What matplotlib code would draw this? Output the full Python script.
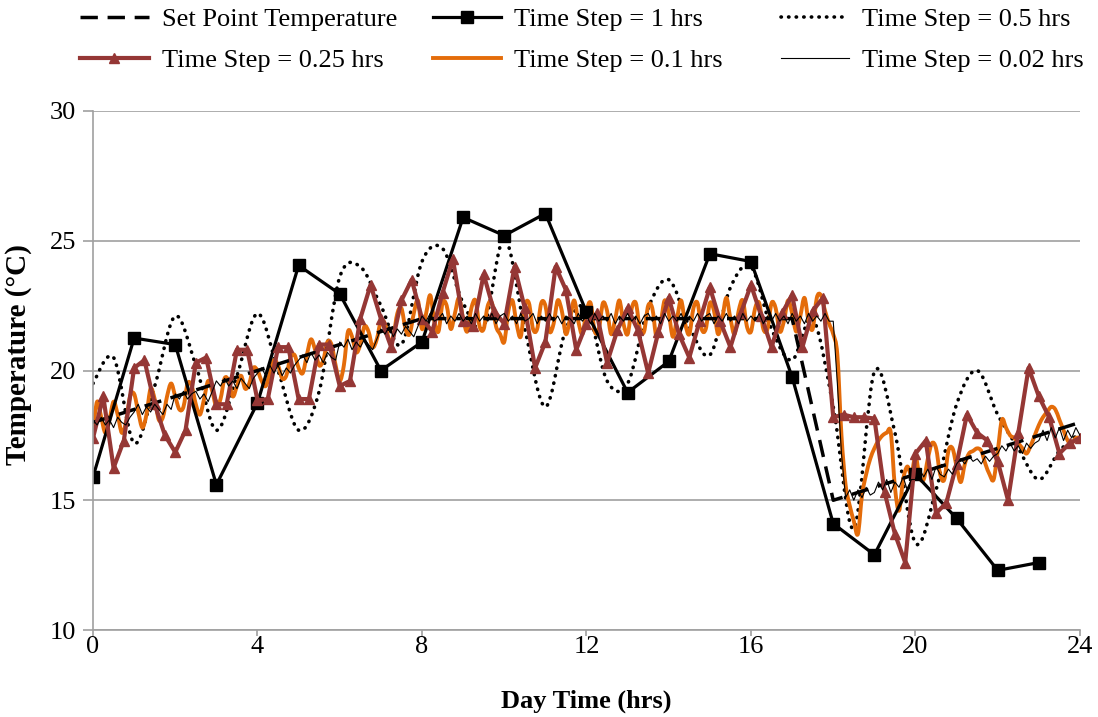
import matplotlib.pyplot as plt
from matplotlib.lines import Line2D
from matplotlib.path import Path
from matplotlib.patches import PathPatch
import numpy as np

plt.rcParams['font.family'] = ['Liberation Serif', 'DejaVu Serif']

# set point, one value per hour
sp_hours = list(range(25))
set_point = [18.0, 18.5, 19.0, 19.5, 20.0, 20.5, 21.0, 21.5, 22.0, 22.0,
             22.0, 22.0, 22.0, 22.0, 22.0, 22.0, 22.0, 22.0, 15.0, 15.5,
             16.0, 16.5, 17.0, 17.5, 18.0]

# time step = 1 hrs
t_1 = list(range(24))
temp_1 = [15.9, 21.25, 21.0, 15.6, 18.75, 24.05, 22.95, 20.0, 21.1, 25.9,
          25.2, 26.05, 22.25, 19.15, 20.35, 24.5, 24.2, 19.75, 14.1, 12.9,
          16.0, 14.3, 12.3, 12.6]

# time step = 0.5 hrs
t_05 = np.arange(49) * 0.5
temp_05 = [19.5, 20.5, 17.2, 19.4, 22.1, 20.2, 17.7, 19.8, 22.2, 20.0,
           17.7, 19.2, 23.6, 24.0, 22.5, 21.0, 24.2, 24.7, 22.6, 21.7,
           25.1, 21.6, 18.6, 21.6, 22.4, 19.6, 19.5, 22.4, 23.5, 21.7,
           20.6, 23.2, 24.0, 21.6, 20.4, 22.0, 18.6, 13.9, 19.95, 17.6,
           13.35, 15.4, 18.7, 20.0, 18.3, 17.0, 15.8, 16.9, 17.6]

# time step = 0.25 hrs
t_025 = np.arange(97) * 0.25
temp_025 = [17.4, 19.0, 16.25, 17.3, 20.1, 20.4, 18.7, 17.5, 16.85, 17.7,
            20.3, 20.5, 18.7, 18.7, 20.8, 20.8, 18.85, 18.9, 20.9, 20.9,
            18.9, 18.9, 21.0, 21.0, 19.4, 19.6, 22.0, 23.3, 22.0, 20.9,
            22.7, 23.5, 22.0, 21.5, 23.0, 24.3, 21.9, 21.7, 23.7, 22.3,
            21.8, 24.0, 22.4, 20.1, 21.1, 24.0, 23.1, 20.8, 21.8, 22.2,
            20.3, 21.55, 22.4, 21.55, 19.9, 21.5, 22.8, 21.4, 20.5, 21.9,
            23.2, 21.9, 20.9, 22.2, 23.3, 22.1, 20.9, 22.2, 22.9, 20.9,
            22.3, 22.8, 18.2, 18.3, 18.2, 18.2, 18.15, 15.3, 13.7, 12.6,
            16.8, 17.3, 14.5, 14.9, 16.4, 18.3, 17.6, 17.3, 16.5, 15.0,
            17.6, 20.1, 19.0, 18.2, 16.8, 17.2, 17.4]

# time step = 0.1 hrs (one row per hour)
t_01 = np.arange(241) * 0.1
temp_01 = [
    17.7, 18.8, 18.2, 17.6, 18.1, 18.8, 18.3, 17.6, 18.0, 19.0,
    19.1, 18.4, 17.8, 18.3, 19.3, 18.9, 18.1, 18.2, 19.0, 19.5,
    19.0, 18.5, 18.6, 19.5, 19.4, 18.7, 18.3, 18.9, 19.6, 19.2,
    18.6, 18.9, 19.7, 19.6, 19.0, 19.4, 19.8, 19.3, 19.5, 20.1,
    20.0, 19.6, 19.4, 19.9, 20.4, 20.2, 19.7, 19.8, 20.5, 20.6,
    20.1, 19.9, 20.6, 21.2, 20.8, 20.2, 20.4, 21.1, 21.0, 20.2,
    19.6, 20.2, 21.5, 21.3, 20.7, 21.0, 21.7, 21.5, 20.9, 21.2,
    21.9, 21.8, 21.2, 21.3, 22.2, 22.4, 21.6, 21.4, 22.2, 22.7,
    21.6, 22.2, 22.9, 21.9, 21.5, 22.6, 22.5, 21.6, 22.2, 22.8,
    22.0, 21.5, 22.4, 22.7, 21.7, 21.6, 22.5, 22.6, 21.7, 21.4,
    21.1, 22.3, 22.7, 21.8, 21.3, 22.5, 22.6, 21.6, 21.6, 22.6,
    22.5, 21.5, 21.8, 22.7, 22.3, 21.4, 22.0, 22.7, 21.9, 21.4,
    22.3, 22.6, 21.5, 21.6, 22.6, 22.3, 21.4, 22.0, 22.7, 21.8,
    21.4, 22.4, 22.6, 21.6, 21.5, 22.5, 22.4, 21.3, 21.8, 22.7,
    22.2, 21.3, 22.0, 22.7, 21.8, 21.4, 22.4, 22.6, 21.6, 21.6,
    22.6, 22.3, 21.4, 22.0, 22.8, 22.0, 21.4, 22.3, 22.7, 21.7,
    21.5, 22.4, 22.6, 21.6, 21.6, 22.6, 22.4, 21.5, 21.9, 22.7,
    22.2, 21.5, 22.1, 22.8, 21.9, 21.6, 22.8, 22.9, 22.3, 21.8,
    21.4, 20.6, 17.5, 15.6, 14.8, 14.2, 13.7, 15.2, 16.0, 16.6,
    17.0, 17.3, 17.5, 17.6, 17.6, 15.5, 14.6, 15.8, 16.3, 16.0,
    16.7, 15.9, 15.8, 16.6, 17.2, 17.0, 16.0, 15.8, 16.9, 17.0,
    16.3, 15.7, 16.4, 16.8, 16.9, 17.0, 16.9, 16.4, 16.0, 15.8,
    16.9, 18.1, 17.8, 17.5, 17.4, 17.2, 17.0, 16.8, 17.1, 17.5,
    17.9, 18.2, 18.4, 18.6, 18.5, 18.1, 17.7, 17.3, 17.2, 17.4,
    17.4]

t_002 = np.arange(241) * 0.1
temp_002 = [
    18.1, 17.9, 18.2, 17.9, 18.1, 17.8, 18.2, 18.0, 17.9, 18.2,
    18.4, 18.7, 18.3, 18.6, 18.4, 18.7, 18.5, 18.3, 18.7, 18.5,
    19.1, 18.9, 19.2, 18.9, 19.1, 19.2, 18.9, 19.1, 18.8, 19.2,
    19.6, 19.4, 19.7, 19.4, 19.6, 19.3, 19.7, 19.5, 19.3, 19.7,
    19.9, 20.1, 19.8, 20.2, 19.9, 20.2, 19.8, 20.1, 19.9, 20.2,
    20.4, 20.6, 20.3, 20.7, 20.4, 20.6, 20.3, 20.7, 20.5, 20.4,
    21.1, 20.9, 21.2, 20.8, 21.1, 20.9, 21.2, 21.0, 20.8, 21.2,
    21.6, 21.4, 21.7, 21.3, 21.6, 21.4, 21.7, 21.5, 21.3, 21.7,
    22.1, 21.9, 22.2, 21.9, 22.0, 22.2, 21.8, 22.1, 21.9, 22.2,
    21.9, 22.1, 21.8, 22.2, 21.9, 22.1, 21.9, 22.2, 21.8, 22.1,
    22.2, 21.9, 22.1, 21.8, 22.2, 21.9, 22.0, 22.2, 21.8, 22.1,
    21.9, 22.2, 21.9, 22.1, 21.8, 22.1, 22.0, 21.8, 22.2, 21.9,
    22.1, 21.8, 22.2, 21.9, 22.1, 21.9, 22.2, 21.8, 22.1, 21.9,
    22.2, 21.9, 22.1, 21.8, 22.1, 22.2, 21.9, 22.1, 21.8, 22.2,
    21.9, 22.1, 21.9, 22.2, 21.8, 22.1, 21.9, 22.2, 21.9, 22.1,
    22.2, 21.8, 22.1, 21.9, 22.2, 21.9, 22.1, 21.8, 22.2, 21.9,
    22.1, 21.9, 22.2, 21.8, 22.1, 21.9, 22.2, 21.9, 22.1, 21.8,
    22.2, 21.9, 22.1, 21.8, 22.2, 21.9, 22.1, 21.9, 22.2, 21.9,
    21.9, 19.5, 16.8, 15.1, 15.4, 15.0, 15.4, 15.1, 15.5, 15.2,
    15.3, 15.7, 15.4, 15.8, 15.3, 15.7, 15.5, 15.9, 15.4, 15.8,
    15.8, 16.2, 15.9, 16.2, 15.8, 16.3, 16.0, 15.9, 16.2, 16.0,
    16.4, 16.6, 16.4, 16.7, 16.5, 16.6, 16.4, 16.7, 16.5, 16.7,
    16.8, 17.1, 16.9, 17.2, 16.9, 17.1, 16.8, 17.2, 17.0, 17.2,
    17.3, 17.7, 17.3, 17.8, 17.4, 17.8, 17.3, 17.7, 17.4, 17.8,
    17.5]

brown = '#953735'
orange = '#E46C0A'
grey = '#A0A0A0'
FS = 19


def smooth_path(x, y):
    # bezier curve through the points, like a "smoothed line" in a spreadsheet
    x = np.asarray(x, float)
    y = np.asarray(y, float)
    n = len(x)
    verts = [(x[0], y[0])]
    codes = [Path.MOVETO]
    for i in range(n - 1):
        i0 = max(i - 1, 0)
        i3 = min(i + 2, n - 1)
        c1 = (x[i] + (x[i + 1] - x[i0]) / 6, y[i] + (y[i + 1] - y[i0]) / 6)
        c2 = (x[i + 1] - (x[i3] - x[i]) / 6, y[i + 1] - (y[i3] - y[i]) / 6)
        verts += [c1, c2, (x[i + 1], y[i + 1])]
        codes += [Path.CURVE4] * 3
    return Path(verts, codes)


fig = plt.figure(figsize=(10.98, 7.17), dpi=100)
ax = fig.add_axes([0.0847, 0.1213, 0.8989, 0.7239])

sp_style = dict(color='black', lw=2.5, dashes=(5, 2.8))
h1_style = dict(color='black', lw=2.3, marker='s', markersize=8)
h05_style = dict(color='black', lw=2.6, dashes=(0.1, 2.0), dash_capstyle='round')
h025_style = dict(color=brown, lw=3, marker='^', markersize=7)
h01_style = dict(color=orange, lw=2.8)
h002_style = dict(color='black', lw=0.8)

ax.plot(sp_hours, set_point, **sp_style)
ax.plot(t_1, temp_1, **h1_style)
ax.add_patch(PathPatch(smooth_path(t_05, temp_05), fill=False, edgecolor='black',
                       lw=2.6, linestyle=(0, (0.1, 2.0)), capstyle='round'))
ax.plot(t_025, temp_025, **h025_style)
ax.add_patch(PathPatch(smooth_path(t_01, temp_01), fill=False, edgecolor=orange,
                       lw=2.8, joinstyle='round'))
ax.plot(t_002, temp_002, **h002_style)

ax.set_xlim(0, 24)
ax.set_ylim(10, 30)
ax.set_xticks(range(0, 25, 4))
ax.set_yticks(range(10, 31, 5))
ax.grid(axis='y', color=grey, lw=1.2)
ax.set_axisbelow(True)
for s in ['top', 'right']:
    ax.spines[s].set_visible(False)
for s in ['left', 'bottom']:
    ax.spines[s].set_color(grey)
    ax.spines[s].set_linewidth(1.2)
ax.tick_params(axis='both', colors=grey, labelcolor='black', labelsize=FS,
               width=1.2)
ax.tick_params(axis='x', length=4, pad=0)
ax.tick_params(axis='y', length=7, pad=5)

ax.set_xlabel('Day Time (hrs)', fontsize=FS, fontweight='bold', labelpad=23)
ax.set_ylabel('Temperature (\u00b0C)', fontsize=21, fontweight='bold')
ax.yaxis.set_label_coords(-0.062, 0.53)

# legend: three columns placed like the spreadsheet's equal-width legend
h_sp = Line2D([], [], label='Set Point Temperature', **sp_style)
h_1 = Line2D([], [], label='Time Step = 1 hrs', **h1_style)
h_05 = Line2D([], [], label='Time Step = 0.5 hrs', **h05_style)
h_025 = Line2D([], [], label='Time Step = 0.25 hrs', **h025_style)
h_01 = Line2D([], [], label='Time Step = 0.1 hrs', **h01_style)
h_002 = Line2D([], [], label='Time Step = 0.02 hrs', **h002_style)

columns = [([h_sp, h_025], 0.073), ([h_1, h_01], 0.394), ([h_05, h_002], 0.711)]
for handles, x0 in columns:
    fig.legend(handles=handles, loc='upper left', bbox_to_anchor=(x0, 0.989),
               frameon=False, fontsize=FS, handlelength=2.6, handletextpad=0.5,
               labelspacing=0.65, borderpad=0, borderaxespad=0, numpoints=1)

fig.savefig('out.png', dpi=100)
